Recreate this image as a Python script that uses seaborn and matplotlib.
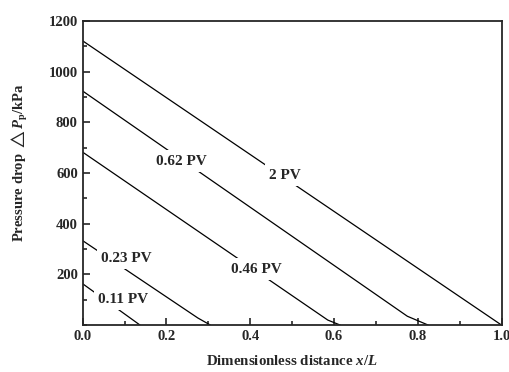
import pandas as pd
import seaborn as sns
import matplotlib.pyplot as plt
from matplotlib.ticker import MultipleLocator

# pressure profiles
x_011 = [0.0, 0.137]
dp_011 = [163, 0]
x_023 = [0.0, 0.275, 0.305]
dp_023 = [333, 28, 0]
x_046 = [0.0, 0.585, 0.615]
dp_046 = [682, 20, 0]
x_062 = [0.0, 0.775, 0.825]
dp_062 = [923, 35, 0]
x_2 = [0.0, 1.0]
dp_2 = [1121, 0]

curves = ['0.11 PV', '0.23 PV', '0.46 PV', '0.62 PV', '2 PV']
xs = [x_011, x_023, x_046, x_062, x_2]
dps = [dp_011, dp_023, dp_046, dp_062, dp_2]

# label anchors (data coords)
label_x = [0.096, 0.105, 0.415, 0.236, 0.482]
label_y = [103, 264, 221, 647, 592]

rows = []
for name, xx, yy in zip(curves, xs, dps):
    for a, b in zip(xx, yy):
        rows.append({'curve': name, 'x': a, 'dp': b})
df = pd.DataFrame(rows)

sns.set_style('ticks')
plt.rcParams['font.family'] = ['Liberation Serif', 'DejaVu Serif']
plt.rcParams['font.weight'] = 'bold'
plt.rcParams['mathtext.fontset'] = 'custom'
plt.rcParams['mathtext.rm'] = 'Liberation Serif:bold'
plt.rcParams['mathtext.it'] = 'Liberation Serif:bold:italic'
plt.rcParams['mathtext.bf'] = 'Liberation Serif:bold'

fig = plt.figure(figsize=(5.09, 3.72), dpi=100)
ax = fig.add_axes([0.1625, 0.126, 0.823, 0.818])

sns.lineplot(data=df, x='x', y='dp', units='curve', estimator=None,
             color='black', lw=0.9, sort=False, ax=ax, legend=False)

for name, lx, ly in zip(curves, label_x, label_y):
    ax.text(lx, ly, name, ha='center', va='center', fontsize=11, fontweight='bold',
            bbox=dict(facecolor='white', edgecolor='none', pad=3))

ax.set_xlim(0, 1.0)
ax.set_ylim(0, 1200)
ax.set_yticks([200, 400, 600, 800, 1000, 1200])
ax.xaxis.set_major_locator(MultipleLocator(0.2))
ax.xaxis.set_minor_locator(MultipleLocator(0.1))
ax.yaxis.set_minor_locator(MultipleLocator(100))
ax.xaxis.set_major_formatter(plt.FormatStrFormatter('%.1f'))
ax.tick_params(which='major', direction='in', length=5, width=1.2, labelsize=10.5)
ax.tick_params(which='minor', direction='in', length=3, width=1.2)
for lab in ax.get_xticklabels() + ax.get_yticklabels():
    lab.set_fontweight('bold')
for s in ax.spines.values():
    s.set_linewidth(1.3)
    s.set_visible(True)

ax.set_xlabel(r'Dimensionless distance $\mathit{x}$/$\mathit{L}$', fontsize=10.7,
              fontweight='bold', labelpad=8)
ax.set_ylabel(r'Pressure drop $\triangle\mathit{P}_\mathrm{p}$/kPa', fontsize=10.5,
              fontweight='bold')
ax.yaxis.set_label_coords(-0.125, 0.535)

fig.savefig('out.png', dpi=100)
